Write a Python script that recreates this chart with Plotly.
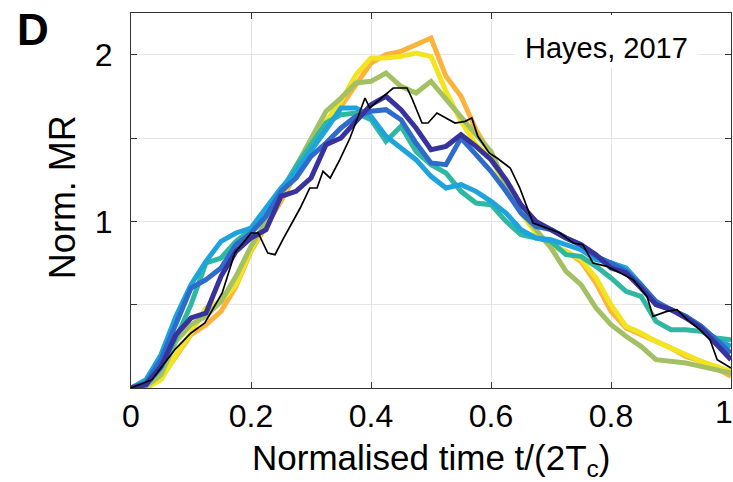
import plotly.graph_objects as go

# Normalised time grid (coloured curves)
t = [0, 0.025, 0.05, 0.075, 0.1, 0.125, 0.15, 0.175, 0.2, 0.225,
     0.25, 0.275, 0.3, 0.325, 0.35, 0.375, 0.4, 0.425, 0.45, 0.475,
     0.5, 0.525, 0.55, 0.575, 0.6, 0.625, 0.65, 0.675, 0.7, 0.725,
     0.75, 0.775, 0.8, 0.825, 0.85, 0.875, 0.9, 0.925, 0.95, 0.975, 1.0]

orange = [0, 0.0, 0.06, 0.19, 0.32, 0.38, 0.46, 0.61, 0.82, 0.97,
          1.12, 1.29, 1.44, 1.58, 1.69, 1.82, 1.95, 2.0, 2.02, 2.06,
          2.1, 1.87, 1.75, 1.55, 1.4, 1.22, 1.06, 0.94, 0.85, 0.82,
          0.76, 0.63, 0.46, 0.36, 0.32, 0.28, 0.24, 0.19, 0.16, 0.12, 0.07]

yellow = [0, 0.0, 0.05, 0.2, 0.33, 0.48, 0.52, 0.62, 0.83, 0.98,
          1.14, 1.3, 1.45, 1.6, 1.72, 1.88, 1.98, 1.98, 1.99, 2.01,
          1.99, 1.78, 1.6, 1.46, 1.38, 1.2, 1.05, 0.93, 0.85, 0.82,
          0.77, 0.66, 0.5, 0.37, 0.33, 0.28, 0.24, 0.2, 0.16, 0.13, 0.1]

green = [0, 0.01, 0.08, 0.28, 0.38, 0.43, 0.52, 0.67, 0.85, 1.0,
         1.15, 1.33, 1.5, 1.66, 1.74, 1.83, 1.84, 1.89, 1.81, 1.77,
         1.84, 1.73, 1.63, 1.52, 1.42, 1.22, 1.06, 0.95, 0.84, 0.7,
         0.62, 0.48, 0.38, 0.31, 0.25, 0.17, 0.16, 0.15, 0.13, 0.11, 0.09]

teal = [0, 0.02, 0.12, 0.3, 0.5, 0.75, 0.78, 0.88, 0.95, 1.07,
        1.18, 1.33, 1.46, 1.59, 1.64, 1.65, 1.61, 1.48, 1.57, 1.42,
        1.34, 1.29, 1.18, 1.11, 1.1, 1.0, 0.92, 0.9, 0.88, 0.8,
        0.79, 0.73, 0.66, 0.58, 0.55, 0.4, 0.35, 0.35, 0.34, 0.3, 0.29]

light_blue = [0, 0.05, 0.2, 0.43, 0.62, 0.76, 0.88, 0.93, 0.96, 1.08,
              1.2, 1.3, 1.42, 1.55, 1.68, 1.68, 1.63, 1.51, 1.44, 1.37,
              1.27, 1.2, 1.22, 1.18, 1.12, 1.05, 0.95, 0.9, 0.89, 0.86,
              0.83, 0.77, 0.75, 0.72, 0.62, 0.5, 0.47, 0.43, 0.37, 0.29, 0.25]

blue = [0, 0.03, 0.17, 0.38, 0.6, 0.65, 0.72, 0.86, 0.93, 1.03,
        1.18, 1.26, 1.39, 1.47, 1.56, 1.63, 1.66, 1.67, 1.61, 1.47,
        1.35, 1.34, 1.5, 1.4, 1.3, 1.18, 1.05, 0.97, 0.95, 0.9,
        0.86, 0.79, 0.75, 0.7, 0.62, 0.52, 0.47, 0.43, 0.37, 0.29, 0.21]

indigo = [0, 0.02, 0.13, 0.32, 0.42, 0.45, 0.67, 0.82, 0.9, 0.95,
          1.15, 1.18, 1.26, 1.46, 1.5, 1.6, 1.7, 1.75, 1.67, 1.56,
          1.43, 1.45, 1.52, 1.45, 1.37, 1.25, 1.1, 1.0, 0.95, 0.9,
          0.86, 0.8, 0.72, 0.69, 0.6, 0.5, 0.47, 0.42, 0.36, 0.26, 0.17]

# Black reference curve (finer sampling)
t_black = [0, 0.035, 0.073, 0.1, 0.123, 0.152, 0.173, 0.2, 0.212, 0.228,
           0.24, 0.253, 0.282, 0.298, 0.31, 0.32, 0.332, 0.348, 0.365, 0.39,
           0.398, 0.42, 0.437, 0.46, 0.468, 0.485, 0.495, 0.51, 0.52, 0.54,
           0.557, 0.568, 0.578, 0.597, 0.61, 0.632, 0.648, 0.67, 0.693, 0.715,
           0.737, 0.753, 0.77, 0.793, 0.81, 0.837, 0.86, 0.87, 0.893, 0.91,
           0.927, 0.948, 0.965, 0.977, 1.0]
black = [0, 0.05, 0.23, 0.33, 0.39, 0.57, 0.81, 0.93, 0.93, 0.81,
         0.8, 0.89, 1.08, 1.2, 1.2, 1.3, 1.26, 1.37, 1.5, 1.74,
         1.68, 1.75, 1.8, 1.8, 1.74, 1.59, 1.59, 1.65, 1.63, 1.59,
         1.6, 1.62, 1.51, 1.41, 1.38, 1.32, 1.2, 0.99, 0.96, 0.93,
         0.87, 0.86, 0.75, 0.73, 0.7, 0.65, 0.55, 0.43, 0.46, 0.47,
         0.41, 0.35, 0.29, 0.17, 0.12]

x_ticks = [0, 0.2, 0.4, 0.6, 0.8]
x_labels = ["0", "0.2", "0.4", "0.6", "0.8"]
x_last_label = "1"
y_ticks = [1, 2]
y_labels = ["1", "2"]
y_minor_ticks = [0.5, 1.5]

series = [
    (t, orange, "#fbb33c", 5),
    (t, yellow, "#f2e41e", 5),
    (t, green, "#a4c064", 5),
    (t, teal, "#2fb7a2", 5),
    (t, light_blue, "#1ea3dc", 5),
    (t, blue, "#2d6ccb", 5),
    (t, indigo, "#38329c", 5),
    (t_black, black, "#000000", 1.7),
]

fig = go.Figure()
for xs, ys, col, w in series:
    fig.add_trace(go.Scatter(x=xs, y=ys, mode="lines",
                             line=dict(color=col, width=w),
                             showlegend=False, hoverinfo="skip"))

font_family = "Liberation Sans, Arial, Helvetica, sans-serif"
axis_col = "#333333"
grid_col = "#e6e6e6"

fig.update_layout(
    width=733, height=482,
    margin=dict(l=131, r=2, t=13, b=94),
    plot_bgcolor="white", paper_bgcolor="white",
    font=dict(family=font_family, color="black"),
)
fig.update_xaxes(
    range=[0, 1], tickvals=x_ticks, ticktext=x_labels,
    ticks="inside", ticklen=6, tickcolor=axis_col, tickwidth=1,
    showline=True, linecolor=axis_col, linewidth=1, mirror="ticks",
    showgrid=True, gridcolor=grid_col, gridwidth=1, zeroline=False,
    tickfont=dict(size=32, family=font_family, color="black"),
    automargin=False, ticklabelstandoff=0,
)
fig.update_yaxes(
    range=[0, 2.25], tickvals=y_ticks, ticktext=y_labels,
    ticks="inside", ticklen=6, tickcolor=axis_col, tickwidth=1,
    showline=True, linecolor=axis_col, linewidth=1, mirror="ticks",
    showgrid=True, gridcolor=grid_col, gridwidth=1, zeroline=False,
    tickfont=dict(size=32, family=font_family, color="black"),
    automargin=False, ticklabelstandoff=11,
    minor=dict(tickvals=y_minor_ticks, ticks="inside", ticklen=6,
               tickcolor=axis_col, showgrid=True, gridcolor=grid_col, gridwidth=1),
)

# last x tick label placed so it stays inside the page
fig.add_annotation(text=x_last_label, xref="paper", yref="paper",
                   x=0.9883, y=-0.064, xanchor="center", yanchor="middle",
                   showarrow=False, font=dict(size=32, family=font_family, color="black"))

fig.add_shape(type="rect", xref="paper", yref="paper",
              x0=0.64, x1=0.945, y0=0.853, y1=0.995,
              fillcolor="white", line=dict(width=0), layer="above")

fig.add_annotation(text="Hayes, 2017", xref="paper", yref="paper",
                   x=0.792, y=0.907, xanchor="center", yanchor="middle",
                   showarrow=False, font=dict(size=29, family=font_family, color="black"))
fig.add_annotation(text="<b>D</b>", xref="paper", yref="paper",
                   x=-0.163, y=0.955, xanchor="center", yanchor="middle",
                   showarrow=False, font=dict(size=44, family=font_family, color="black"))
fig.add_annotation(text="Normalised time t/(2T<sub>c</sub>)", xref="paper", yref="paper",
                   x=0.5, y=-0.192, xanchor="center", yanchor="middle",
                   showarrow=False, font=dict(size=35, family=font_family, color="black"))
fig.add_annotation(text="Norm. MR", xref="paper", yref="paper",
                   x=-0.115, y=0.509, xanchor="center", yanchor="middle", textangle=-90,
                   showarrow=False, font=dict(size=36, family=font_family, color="black"))

fig.write_html("out.html")
